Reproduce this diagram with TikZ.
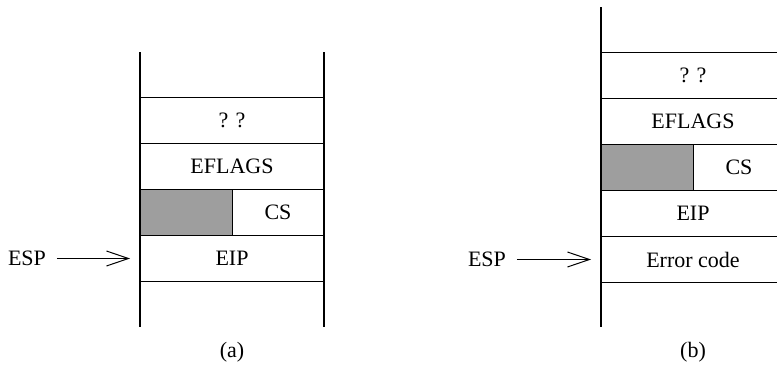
\documentclass[tikz,border=0pt]{standalone}
\usepackage{fontspec}
\setmainfont{Liberation Serif}
\usetikzlibrary{arrows.meta}

\begin{document}
\begin{tikzpicture}[x=1pt, y=-1pt, line width=1pt,
    every node/.style={font=\fontsize{22}{26}\selectfont},
    cell/.style={draw, minimum width=184pt, minimum height=46pt, inner sep=0pt, outer sep=0pt},
    halfcell/.style={draw, minimum width=92pt, minimum height=46pt, inner sep=0pt, outer sep=0pt},
    grey/.style={fill=black!38},
    esparrow/.style={-{Straight Barb[length=22pt, width=15pt, line width=1pt]}, line width=1pt, shorten <=7pt, shorten >=10pt}]
    \useasboundingbox (0,0) rectangle (777,380);
    \clip (0,0) rectangle (777,380);

    % (a)
    \node[cell] (qa) at (232,120.5) {? ?};
    \node[cell] (fa) at (232,166.5) {EFLAGS};
    \node[halfcell, grey] (ga) at (186,212.5) {};
    \node[halfcell] (ca) at (278,212.5) {CS};
    \node[cell] (ea) at (232,258.5) {EIP};
    \coordinate (ta) at (140,52);
    \coordinate (ba) at (140,327);
    \draw[line width=1.2pt] (ta) -- (ba);
    \draw[line width=1.2pt] (ta -| qa.east) -- (ba -| qa.east);

    \node (espa) at (27,258.5) {ESP};
    \draw[esparrow] (espa) -- (ea.west);
    \node (la) at (232,352) {(a)};

    % (b)
    \node[cell] (qb) at (693,75) {? ?};
    \node[cell] (fb) at (693,121) {EFLAGS};
    \node[halfcell, grey] (gb) at (647,167) {};
    \node[halfcell] (cb) at (739,167) {CS};
    \node[cell] (eb) at (693,213) {EIP};
    \node[cell] (rb) at (693,259.5) {Error code};
    \coordinate (tb) at (601,7);
    \coordinate (bb) at (601,327);
    \draw[line width=1.2pt] (tb) -- (bb);
    \draw[line width=1.2pt] (tb -| qb.east) -- (bb -| qb.east);

    \node (espb) at (487,259.5) {ESP};
    \draw[esparrow] (espb) -- (rb.west);
    \node (lb) at (693,352) {(b)};
\end{tikzpicture}
\end{document}
